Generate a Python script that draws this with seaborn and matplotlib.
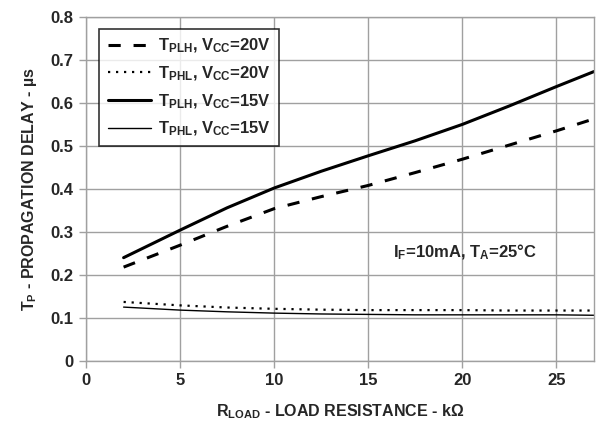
import seaborn as sns
import matplotlib
matplotlib.use("Agg")
from matplotlib import pyplot as plt
from matplotlib import font_manager

# load resistance (kOhm) and propagation delays (us)
r_load = [2, 5, 7.5, 10, 12.5, 15, 17.5, 20, 22.5, 25, 27]
tplh_20v = [0.218, 0.269, 0.313, 0.354, 0.382, 0.408, 0.438, 0.469, 0.502, 0.535, 0.563]
tphl_20v = [0.137, 0.129, 0.124, 0.121, 0.119, 0.118, 0.118, 0.118, 0.117, 0.117, 0.117]
tplh_15v = [0.240, 0.304, 0.356, 0.402, 0.441, 0.477, 0.512, 0.550, 0.593, 0.638, 0.673]
tphl_15v = [0.125, 0.118, 0.114, 0.111, 0.109, 0.108, 0.107, 0.107, 0.107, 0.107, 0.106]

labels = [r"T$_{\rm PLH}$, V$_{\rm CC}$=20V",
          r"T$_{\rm PHL}$, V$_{\rm CC}$=20V",
          r"T$_{\rm PLH}$, V$_{\rm CC}$=15V",
          r"T$_{\rm PHL}$, V$_{\rm CC}$=15V"]
x_ticks = [0, 5, 10, 15, 20, 25]
y_ticks = [0, 0.1, 0.2, 0.3, 0.4, 0.5, 0.6, 0.7, 0.8]

sns.set_style("white")
names = {f.name for f in font_manager.fontManager.ttflist}
font = "Liberation Sans Narrow" if "Liberation Sans Narrow" in names else "Liberation Sans"
plt.rcParams["font.family"] = [font, "DejaVu Sans"]
plt.rcParams["font.weight"] = "bold"
plt.rcParams["mathtext.fontset"] = "custom"
plt.rcParams["mathtext.rm"] = font + ":bold"
plt.rcParams["mathtext.bf"] = font + ":bold"
plt.rcParams["mathtext.it"] = font + ":bold"

fig = plt.figure(figsize=(5.97, 4.24), dpi=100)
ax = fig.add_axes([0.144, 0.149, 0.851, 0.811])

series = [tplh_20v, tphl_20v, tplh_15v, tphl_15v]
styles = [(0, (4, 4.2)), (0, (1, 2.6)), "-", "-"]
widths = [2.2, 1.6, 2.2, 1.0]
for vals, lab, ls, lw in zip(series, labels, styles, widths):
    sns.lineplot(x=r_load, y=vals, ax=ax, color="black", linewidth=lw,
                 linestyle=ls, label=lab)

ax.set_xlim(0, 27)
ax.set_ylim(0, 0.8)
ax.set_xticks(x_ticks)
ax.set_yticks(y_ticks)
ax.set_yticklabels(["0"] + [f"{v:.1f}" for v in y_ticks[1:]])
ax.grid(True, color="#a0a0a0", linewidth=1.0)
for s in ax.spines.values():
    s.set_color("#a0a0a0")
    s.set_linewidth(1.0)
ax.tick_params(axis="both", which="major", labelsize=12, length=5,
               color="#a0a0a0", width=1, direction="out", pad=4,
               left=True, bottom=True)

ax.set_xlabel(r"R$_{\rm LOAD}$ - LOAD RESISTANCE - k$\Omega$", fontsize=11.5,
              fontweight="bold", labelpad=10)
ax.set_ylabel(r"T$_{\rm P}$ - PROPAGATION DELAY - µs", fontsize=11.5,
              fontweight="bold", labelpad=8)

ax.text(16.3, 0.253, r"I$_{\rm F}$=10mA, T$_{\rm A}$=25°C", fontsize=12,
        fontweight="bold", va="center", ha="left")

leg = ax.legend(loc="upper left", bbox_to_anchor=(0.01, 0.99), fontsize=12,
                frameon=True, fancybox=False, handlelength=2.6,
                labelspacing=0.55, borderpad=0.5, handletextpad=0.4)
leg.get_frame().set_edgecolor("black")
leg.get_frame().set_linewidth(1.2)

fig.savefig("out.png", dpi=100)
